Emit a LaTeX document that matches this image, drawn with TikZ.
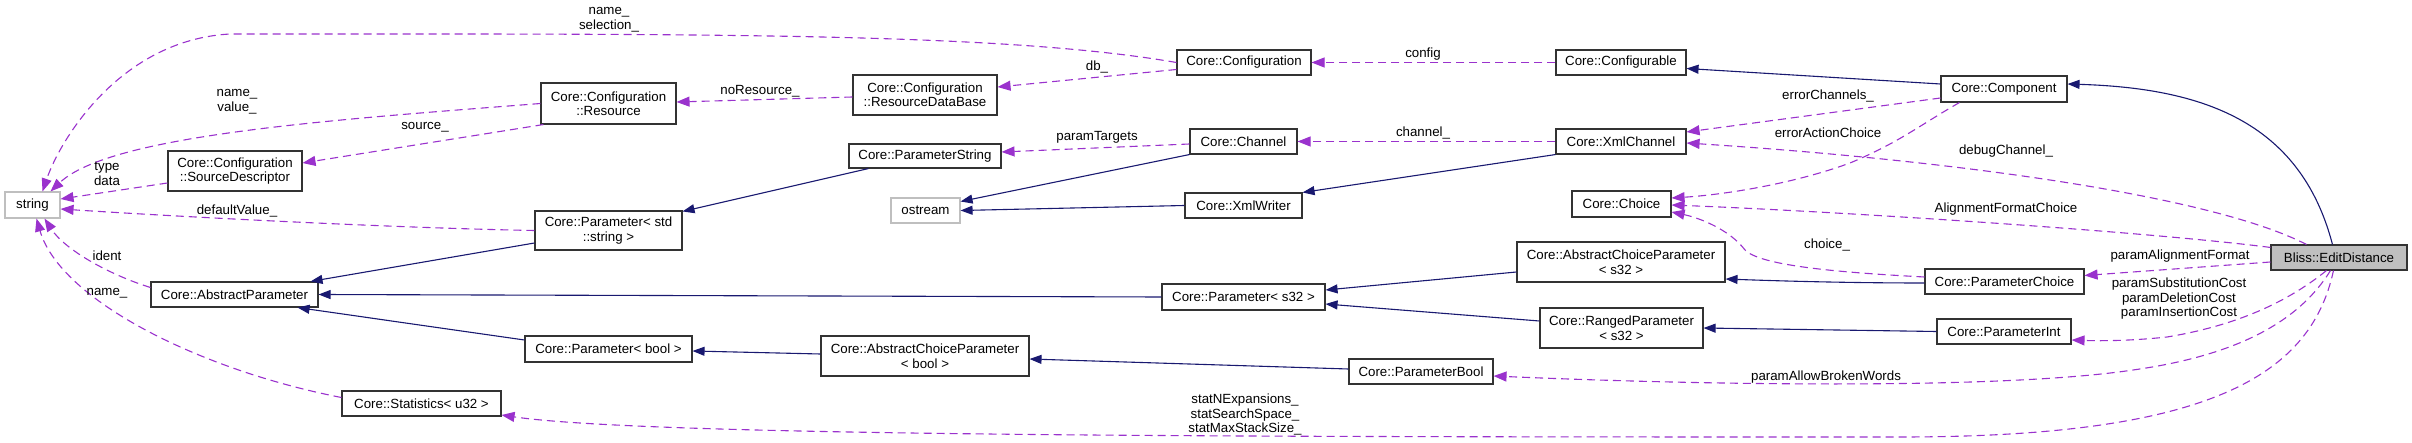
\documentclass[tikz,border=0pt]{standalone}
\usepackage{fontspec}
\setmainfont{Liberation Sans}
\usetikzlibrary{arrows.meta}
\definecolor{inhblue}{HTML}{191970}
\definecolor{usepurple}{HTML}{9A32CD}
\definecolor{grayb}{HTML}{BFBFBF}
\begin{document}
\begin{tikzpicture}[x=1pt,y=-1pt,
 every node/.style={font=\fontsize{13.3}{14.5}\selectfont},
 cls/.style={draw=black!80, line width=1.1pt, fill=white, inner sep=0pt, align=center},
 ext/.style={draw=grayb, line width=1.1pt, fill=white, inner sep=0pt, align=center},
 focus/.style={draw=black!80, line width=1.1pt, fill=grayb, inner sep=0pt, align=center},
 inh/.style={draw=inhblue, line width=1.1pt, -{Triangle[length=12pt,width=9pt]}},
 usage/.style={draw=usepurple, line width=1.1pt, dash pattern=on 8pt off 5pt, -{Triangle[length=13pt,width=10pt]}},
 lbl/.style={align=center, inner sep=0pt},
]
\useasboundingbox (0,0) rectangle (2412,443);

% nodes
\node[ext, minimum width=55pt, minimum height=26pt] (str) at (32.5,205) {string};
\node[cls, minimum width=134pt, minimum height=40pt] (srcdesc) at (235,171) {Core::Configuration\\::SourceDescriptor};
\node[cls, minimum width=135pt, minimum height=41pt] (resource) at (608.5,103.5) {Core::Configuration\\::Resource};
\node[cls, minimum width=147pt, minimum height=39pt] (pstr) at (608.5,230.5) {Core::Parameter< std\\::string >};
\node[cls, minimum width=167pt, minimum height=25pt] (absparam) at (234.5,294.5) {Core::AbstractParameter};
\node[cls, minimum width=167pt, minimum height=26pt] (pbool) at (608.5,349) {Core::Parameter< bool >};
\node[cls, minimum width=159pt, minimum height=25pt] (stats) at (421.5,403.5) {Core::Statistics< u32 >};
\node[cls, minimum width=144pt, minimum height=40pt] (rdb) at (925,95) {Core::Configuration\\::ResourceDataBase};
\node[cls, minimum width=134pt, minimum height=25pt] (config) at (1244,62.5) {Core::Configuration};
\node[cls, minimum width=152pt, minimum height=24pt] (paramstr) at (925,156) {Core::ParameterString};
\node[ext, minimum width=69pt, minimum height=25pt] (ostream) at (925.5,210.5) {ostream};
\node[cls, minimum width=107pt, minimum height=25pt] (channel) at (1243.5,141.5) {Core::Channel};
\node[cls, minimum width=117pt, minimum height=25pt] (xmlwriter) at (1243.5,205.5) {Core::XmlWriter};
\node[cls, minimum width=208pt, minimum height=40pt] (acpbool) at (925,356) {Core::AbstractChoiceParameter\\< bool >};
\node[cls, minimum width=163pt, minimum height=26pt] (ps32) at (1243.5,297) {Core::Parameter< s32 >};
\node[cls, minimum width=130pt, minimum height=25pt] (configurable) at (1621,62.5) {Core::Configurable};
\node[cls, minimum width=130pt, minimum height=25pt] (xmlchannel) at (1621,141.5) {Core::XmlChannel};
\node[cls, minimum width=99pt, minimum height=26pt] (choice) at (1621.5,204) {Core::Choice};
\node[cls, minimum width=208pt, minimum height=40pt] (acps32) at (1621,262) {Core::AbstractChoiceParameter\\< s32 >};
\node[cls, minimum width=163pt, minimum height=40pt] (ranged) at (1621.5,328) {Core::RangedParameter\\< s32 >};
\node[cls, minimum width=144pt, minimum height=25pt] (parambool) at (1421,371.5) {Core::ParameterBool};
\node[cls, minimum width=126pt, minimum height=26pt] (component) at (2004,89) {Core::Component};
\node[focus, minimum width=136pt, minimum height=25pt] (edit) at (2339,257.5) {Bliss::EditDistance};
\node[cls, minimum width=159pt, minimum height=25pt] (pchoice) at (2004.5,281.5) {Core::ParameterChoice};
\node[cls, minimum width=134pt, minimum height=25pt] (pint) at (2004,331.5) {Core::ParameterInt};

% inheritance edges
\draw[inh] ([xshift=20pt]paramstr.south west) -- ([yshift=-1pt]pstr.north east);
\draw[inh] (channel.south west) -- ([yshift=9pt]ostream.east);
\draw[inh] (xmlwriter.west) -- (ostream.east);
\draw[inh] (xmlchannel.south west) -- (xmlwriter.north east);
\draw[inh] ([yshift=5pt]component.west) -- ([yshift=-6pt]configurable.east);
\draw[inh] ([yshift=-1.5pt]pchoice.west) .. controls (1850,283) and (1780,281) .. ([yshift=-17pt]acps32.east);
\draw[inh] ([yshift=-10pt]acps32.west) -- ([yshift=7pt]ps32.east);
\draw[inh] ([yshift=7pt]ranged.west) -- ([yshift=-7pt]ps32.east);
\draw[inh] (pint.west) -- (ranged.east);
\draw[inh] ([xshift=62pt]edit.north west) .. controls (2300,120) and (2200,88) .. ([yshift=5pt]component.east);
\draw[inh] (ps32.west) -- (absparam.east);
\draw[inh] ([yshift=-12.5pt]pstr.west) -- ([xshift=-8pt]absparam.north east);
\draw[inh] ([yshift=9pt]pbool.west) -- ([xshift=-21pt]absparam.south east);
\draw[inh] ([yshift=2pt]acpbool.west) -- ([yshift=-2pt]pbool.east);
\draw[inh] ([yshift=2.5pt]parambool.west) -- ([yshift=-3pt]acpbool.east);

% usage edges
\draw[usage] (config.west) .. controls (1000,32) and (700,34) .. (230,34) .. controls (120,40) and (60,140) .. ([xshift=10pt]str.north);
\draw[usage] (resource.west) .. controls (330,120) and (110,135) .. ([xshift=18pt]str.north);
\draw[usage] ([xshift=3pt]resource.south west) -- ([yshift=8pt]srcdesc.east);
\draw[usage] ([yshift=-12pt]srcdesc.west) -- ([yshift=6pt]str.east);
\draw[usage] (pstr.west) .. controls (400,228) and (200,218) .. ([yshift=-4pt]str.east);
\draw[usage] ([yshift=7pt]absparam.west) .. controls (110,275) and (65,250) .. ([xshift=12pt]str.south);
\draw[usage] ([yshift=6pt]stats.west) .. controls (200,370) and (60,300) .. ([xshift=4pt]str.south);
\draw[usage] ([yshift=-2pt]rdb.west) -- ([yshift=1.5pt]resource.east);
\draw[usage] ([yshift=-7pt]config.west) -- ([yshift=8pt]rdb.east);
\draw[usage] (configurable.west) -- (config.east);
\draw[usage] ([yshift=-2.5pt]channel.west) -- ([yshift=4pt]paramstr.east);
\draw[usage] (xmlchannel.west) -- (channel.east);
\draw[usage] ([yshift=-9pt]component.west) -- ([yshift=9.5pt]xmlchannel.east);
\draw[usage] ([xshift=19pt]component.south west) .. controls (1920,125) and (1900,142) .. (1850,163) .. controls (1790,185) and (1720,195) .. ([yshift=6pt]choice.east);
\draw[usage] ([xshift=36pt]edit.north west) .. controls (2210,195) and (1950,160) .. ([yshift=-1.5pt]xmlchannel.east);
\draw[usage] ([yshift=-3pt]edit.north west) .. controls (2150,232) and (1850,212) .. ([yshift=-1pt]choice.east);
\draw[usage] ([yshift=4.5pt]pchoice.west) .. controls (1830,272) and (1760,265) .. (1745,250) .. controls (1730,230) and (1700,218) .. ([yshift=-8pt]choice.east);
\draw[usage] ([yshift=-4.5pt]edit.west) -- ([yshift=6pt]pchoice.east);
\draw[usage] ([xshift=56pt]edit.south west) .. controls (2290,300) and (2240,325) .. (2167,337) .. controls (2130,341) and (2100,341) .. ([yshift=-8.5pt]pint.east);
\draw[usage] ([xshift=60pt]edit.south west) .. controls (2300,320) and (2240,355) .. (2133,370) .. controls (2000,390) and (1700,385) .. ([yshift=-4.5pt]parambool.east);
\draw[usage] ([xshift=63pt]edit.south west) .. controls (2310,380) and (2200,437) .. (1900,437) .. controls (1300,437) and (650,437) .. ([yshift=-11.5pt]stats.east);

% labels
\node[lbl] (l1) at (609,19.5) {name\_\\selection\_};
\node[lbl] (l2) at (237,101.5) {name\_\\value\_};
\node[lbl] (l3) at (425,127) {source\_};
\node[lbl] (l4) at (107,174) {type\\data};
\node[lbl] (l5) at (237,211) {defaultValue\_};
\node[lbl] (l6) at (107,256) {ident};
\node[lbl] (l7) at (107,293) {name\_};
\node[lbl] (l8) at (760,91) {noResource\_};
\node[lbl] (l9) at (1097,67) {db\_};
\node[lbl] (l10) at (1423,54) {config};
\node[lbl] (l11) at (1097,137) {paramTargets};
\node[lbl] (l12) at (1423,133) {channel\_};
\node[lbl] (l13) at (1828,96) {errorChannels\_};
\node[lbl] (l14) at (1828,133) {errorActionChoice};
\node[lbl] (l15) at (2006,151) {debugChannel\_};
\node[lbl] (l16) at (2006,209) {AlignmentFormatChoice};
\node[lbl] (l17) at (1827,245) {choice\_};
\node[lbl] (l18) at (2180,256) {paramAlignmentFormat};
\node[lbl] (l19) at (2179,299) {paramSubstitutionCost\\paramDeletionCost\\paramInsertionCost};
\node[lbl] (l20) at (1826,377) {paramAllowBrokenWords};
\node[lbl] (l21) at (1245,415) {statNExpansions\_\\statSearchSpace\_\\statMaxStackSize\_};
\end{tikzpicture}
\end{document}
